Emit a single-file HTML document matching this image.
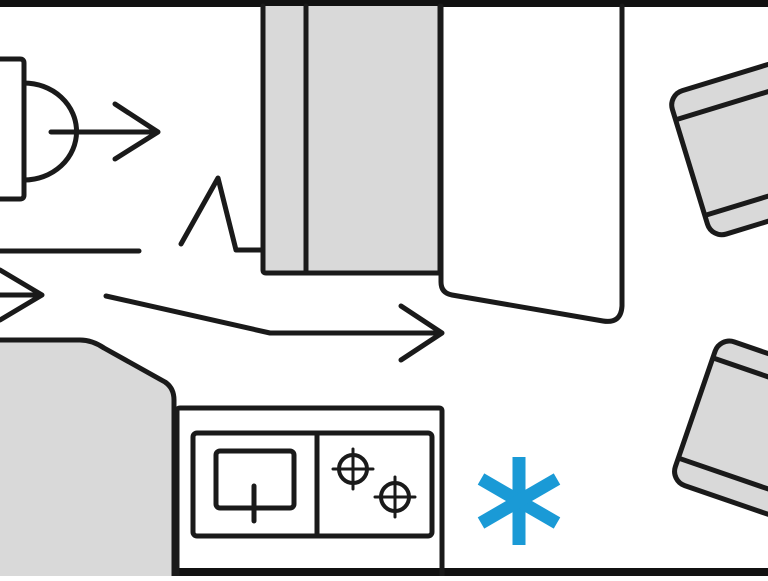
<!DOCTYPE html>
<html><head><style>html,body{margin:0;padding:0;background:#fff;overflow:hidden}</style></head>
<body>
<svg width="768" height="576" viewBox="0 0 768 576" xmlns="http://www.w3.org/2000/svg">
<g fill="none" stroke="#1a1a1a" stroke-width="5" stroke-linecap="round" stroke-linejoin="round">
<!-- walls -->
<rect x="0" y="0" width="768" height="7" fill="#111" stroke="none"/>
<rect x="0" y="568" width="768" height="8" fill="#111" stroke="none"/>
<!-- left box -->
<path d="M-5,59 H20 Q24,59 24,63 V195 Q24,199 20,199 H-5"/>
<path d="M24,83 A52,48 0 0 1 24,180"/>
<path d="M51,132 H158 M115,104 L158,132 L115,159"/>
<path d="M0,251 H139"/>
<path d="M181,244 L218,178 L236,250 H262"/>
<!-- cabinet -->
<path d="M263,6 V270 Q263,273 266,273 H440 V6" fill="#d9d9d9"/>
<path d="M306,6 V271"/>
<!-- white shape -->
<path d="M441,6 V282 Q441,293 452,295 L603,321 Q621,324 622,306 V6"/>
<!-- left arrow -->
<path d="M0,295 H42 M0,270 L42,295 L0,320"/>
<!-- long arrow -->
<path d="M106,296 L270,333 H441 M401,306 L442,333 L401,360"/>
<!-- grey left -->
<path d="M-5,340 H80 Q92,340 104,348 L165,382 Q174,388 174,400 V580 H-5 Z" fill="#d9d9d9"/>
<!-- counter -->
<path d="M177,580 V411 Q177,408 180,408 H439 Q442,408 442,411 V580"/>
<rect x="193" y="433" width="239" height="103" rx="4"/>
<path d="M317,433 V536"/>
<rect x="216" y="451" width="78" height="57" rx="4"/>
<path d="M254,486 V521"/>
<circle cx="353" cy="469" r="14" stroke-width="4"/>
<path d="M333,469 H373 M353,449 V489" stroke-width="3"/>
<circle cx="395" cy="497" r="14" stroke-width="4"/>
<path d="M375,497 H415 M395,477 V517" stroke-width="3"/>
<!-- seats -->
<g transform="translate(668,95) rotate(-17)">
<rect x="0" y="0" width="170" height="150" rx="15" fill="#d9d9d9"/>
<path d="M2,26 H170 M2,126 H170"/>
</g>
<g transform="translate(720,337) rotate(19)">
<rect x="0" y="0" width="170" height="152" rx="15" fill="#d9d9d9"/>
<path d="M2,22 H170 M2,128 H170"/>
</g>
</g>
<!-- asterisk -->
<g stroke="#1a9ad6" stroke-width="13" stroke-linecap="butt">
<path d="M519,457 L519,545"/>
<path d="M481,479 L557,523"/>
<path d="M481,523 L557,479"/>
</g>
</svg>
</body></html>
